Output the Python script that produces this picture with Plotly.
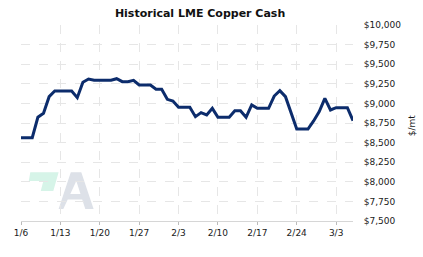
import pandas as pd
import plotly.graph_objects as go

start_date = "2023-01-06"
end_date = "2023-03-06"
prices = [
    8563, 8563, 8563, 8823, 8874, 9086, 9158, 9158, 9158, 9158,
    9073, 9269, 9311, 9295, 9295, 9295, 9295, 9315, 9277, 9277,
    9295, 9235, 9235, 9235, 9180, 9180, 9052, 9031, 8950, 8950,
    8950, 8831, 8882, 8852, 8937, 8823, 8823, 8823, 8907, 8907,
    8823, 8980, 8937, 8937, 8937, 9094, 9162, 9086, 8880, 8673,
    8673, 8673, 8776, 8895, 9064, 8916, 8946, 8946, 8946, 8780,
]
dates = pd.date_range(start_date, periods=len(prices), freq="D")
tick_dates = ["2023-01-06", "2023-01-13", "2023-01-20", "2023-01-27", "2023-02-03",
              "2023-02-10", "2023-02-17", "2023-02-24", "2023-03-03"]
tick_labels = ["1/6", "1/13", "1/20", "1/27", "2/3", "2/10", "2/17", "2/24", "3/3"]
y_ticks = list(range(7500, 10001, 250))
y_tick_labels = ["${:,}".format(v) for v in y_ticks]
y_title = "$/mt"

fig = go.Figure()
fig.add_trace(go.Scatter(
    x=dates, y=prices, mode="lines",
    line=dict(color="#0c2c6c", width=3),
    hoverinfo="skip", showlegend=False,
))

# watermark logo (decorative, paper coordinates)
fig.add_shape(type="path", xref="paper", yref="paper",
              path="M 0.028 0.2485 L 0.1133 0.2485 L 0.0973 0.1531 L 0.0596 0.1531 "
                   "L 0.0672 0.2041 L 0.0235 0.2041 Z",
              fillcolor="#d6f4e8", line_width=0, layer="below")
fig.add_shape(type="path", xref="paper", yref="paper",
              path="M 0.1133 0.0612 L 0.1500 0.2485 L 0.1816 0.2485 L 0.2187 0.0612 "
                   "L 0.1937 0.0612 L 0.1843 0.1097 L 0.1407 0.1097 L 0.1274 0.0612 Z "
                   "M 0.1666 0.2041 L 0.1485 0.1378 L 0.1792 0.1378 Z",
              fillcolor="#dde1e8", line_width=0, layer="below")

fig.add_annotation(x=1.1786, y=0.49, xref="paper", yref="paper", text=y_title,
                   textangle=-90, showarrow=False, xanchor="center", yanchor="middle",
                   font=dict(family="DejaVu Sans", size=9, color="#1a1a1a"))

fig.update_layout(
    width=423, height=257,
    margin=dict(l=21, r=70, t=25, b=36),
    paper_bgcolor="white", plot_bgcolor="white",
    font=dict(family="DejaVu Sans", size=9, color="#1a1a1a"),
    title=dict(text="<b>Historical LME Copper Cash</b>", x=0.473, xanchor="center",
               y=0.95, yanchor="middle", font=dict(family="DejaVu Sans", size=11, color="#111")),
    xaxis=dict(
        range=[start_date, end_date], tickvals=tick_dates, ticktext=tick_labels,
        showgrid=True, gridcolor="#e6e6e6", griddash="dash", gridwidth=1,
        showline=True, linecolor="#d6d6d6", linewidth=1,
        ticks="outside", ticklen=3, tickcolor="#bbbbbb",
        zeroline=False, fixedrange=True, automargin=False,
    ),
    yaxis=dict(
        range=[7500, 10000], tickvals=y_ticks, ticktext=y_tick_labels,
        side="right", showgrid=True, gridcolor="#e6e6e6", griddash="dash", gridwidth=1,
        ticks="outside", ticklen=8, tickcolor="rgba(0,0,0,0)",
        zeroline=False, showline=False, fixedrange=True, automargin=False,
    ),
)

fig.write_html("out.html", config={"displayModeBar": False},
               post_script="document.body.style.margin='0';")
